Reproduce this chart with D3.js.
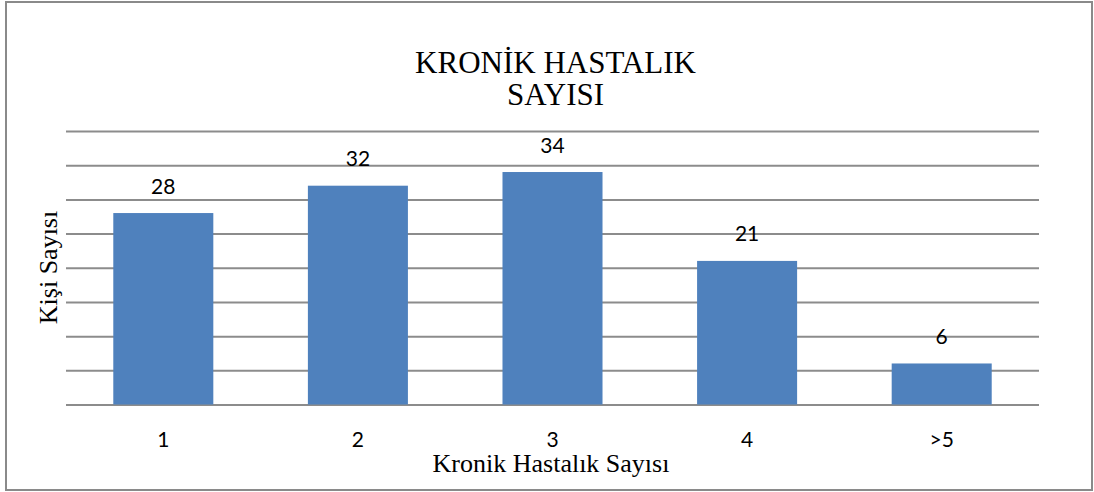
<!DOCTYPE html>
<html>
<head>
<meta charset="utf-8">
<script src="https://cdn.jsdelivr.net/npm/d3@7"></script>
<style>
  html, body { margin: 0; padding: 0; background: #fff; }
  svg { display: block; }
  .serif { font-family: "Liberation Serif", "Times New Roman", serif; }
  .sans { font-family: Lato, "Open Sans", sans-serif; }
</style>
</head>
<body>
<svg id="chart" width="1094" height="492"></svg>
<script>
const categories = ["1", "2", "3", "4", ">5"];
const values = [28, 32, 34, 21, 6];
const yTicks = [0, 5, 10, 15, 20, 25, 30, 35, 40];
const titleLines = ["KRONİK HASTALIK", "SAYISI"];
const xTitle = "Kronik Hastalık Sayısı";
const yTitle = "Kişi Sayısı";

const svg = d3.select("#chart");

// frame
svg.append("rect")
  .attr("x", 6).attr("y", 2).attr("width", 1086).attr("height", 488)
  .attr("fill", "#fff").attr("stroke", "#8a8a8a").attr("stroke-width", 2);

const x = d3.scaleBand().domain(categories).range([66, 1039]).paddingInner(0.486).paddingOuter(0.243);
const y = d3.scaleLinear().domain([0, 40]).range([404.5, 131]);

// gridlines via axis
const gridAxis = d3.axisLeft(y).tickValues(yTicks).tickSize(-(1039 - 66)).tickFormat("");
const g = svg.append("g").attr("transform", "translate(66,0)").call(gridAxis);
g.select(".domain").remove();
g.selectAll(".tick line").attr("stroke", "#8c8c8c").attr("stroke-width", 2);

// bars
svg.append("g").selectAll("rect").data(values).join("rect")
  .attr("x", (d, i) => x(categories[i]))
  .attr("width", x.bandwidth())
  .attr("y", d => y(d))
  .attr("height", d => y(0) - y(d))
  .attr("fill", "#4f81bd");

// data labels
svg.append("g").selectAll("text").data(values).join("text")
  .attr("class", "sans")
  .attr("x", (d, i) => x(categories[i]) + x.bandwidth() / 2)
  .attr("y", d => y(d) - 19.5)
  .attr("text-anchor", "middle")
  .attr("font-size", 21)
  .attr("fill", "#000")
  .text(d => d);

// x axis labels
const xAxis = d3.axisBottom(x).tickSize(0).tickPadding(0);
const xa = svg.append("g").attr("transform", "translate(0,446.5)").call(xAxis);
xa.select(".domain").remove();
xa.attr("font-family", null).attr("font-size", null);
xa.selectAll(".tick text")
  .attr("class", "sans")
  .attr("y", 0).attr("dy", 0)
  .attr("font-size", 21)
  .attr("fill", "#000");

// title
titleLines.forEach((t, i) => {
  svg.append("text")
    .attr("class", "serif")
    .attr("x", 555.5)
    .attr("y", 73 + i * 32)
    .attr("text-anchor", "middle")
    .attr("font-size", 31)
    .attr("fill", "#000")
    .text(t);
});

// x title
svg.append("text")
  .attr("class", "serif")
  .attr("x", 551).attr("y", 472)
  .attr("text-anchor", "middle")
  .attr("font-size", 26)
  .attr("fill", "#000")
  .text(xTitle);

// y title
svg.append("text")
  .attr("class", "serif")
  .attr("transform", "translate(56.5,267.5) rotate(-90)")
  .attr("text-anchor", "middle")
  .attr("font-size", 26)
  .attr("fill", "#000")
  .text(yTitle);
</script>
</body>
</html>
